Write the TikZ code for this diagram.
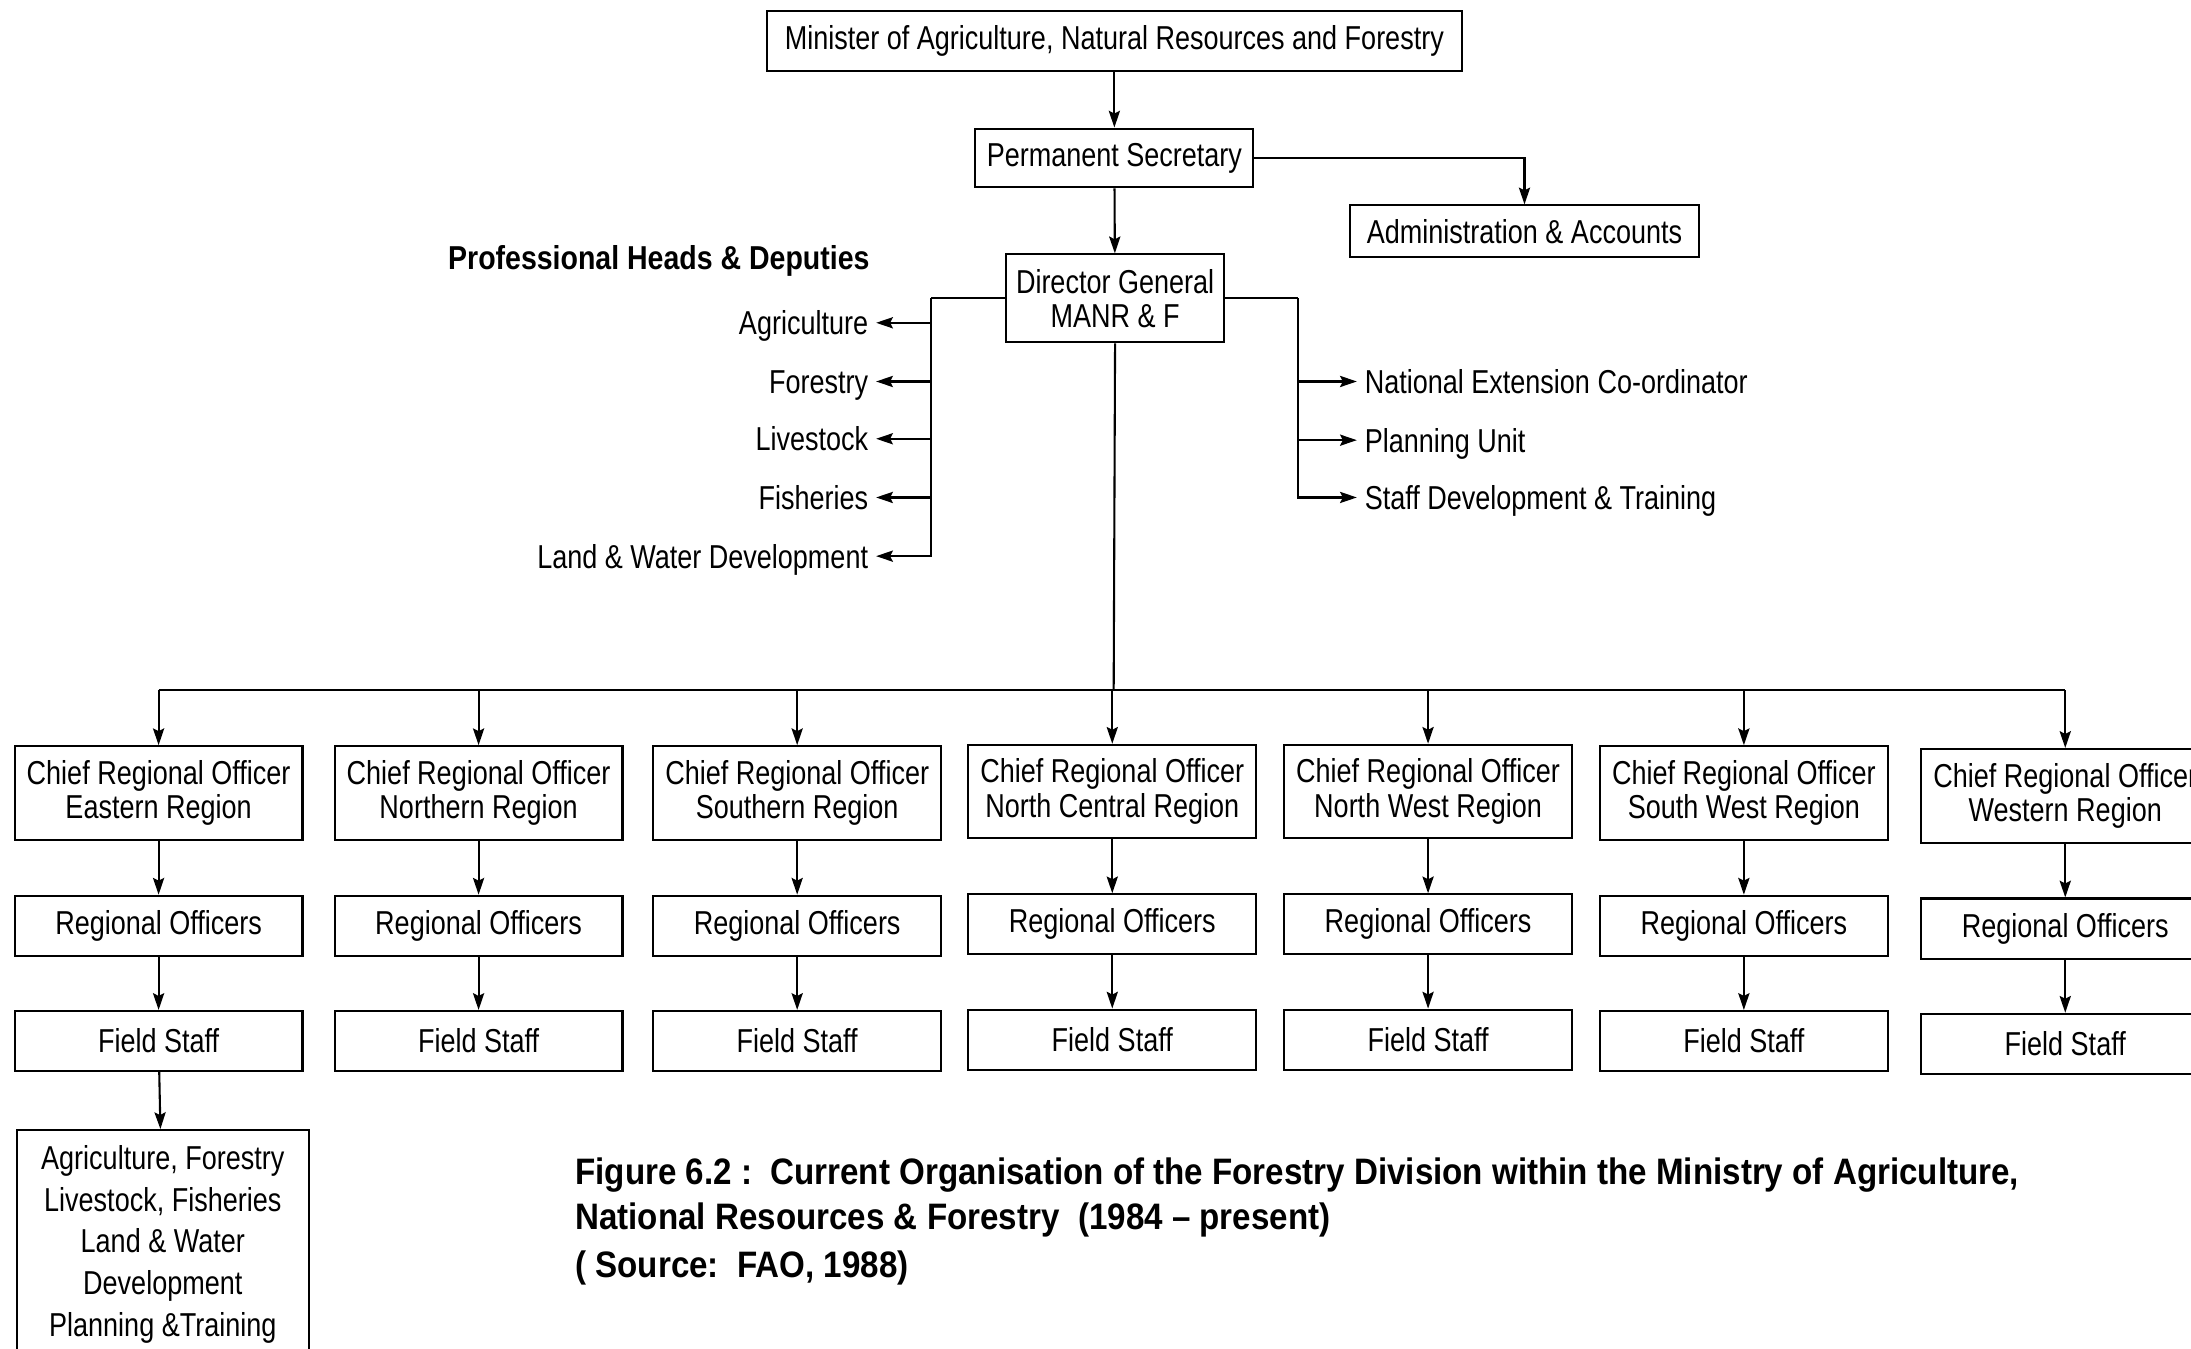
\documentclass[tikz,border=0pt]{standalone}
\usepackage{fontspec}
\setmainfont[FakeStretch=0.815]{Liberation Sans}
\newfontfamily\phfont[FakeStretch=0.86]{Liberation Sans}
\newfontfamily\capfont[FakeStretch=0.9]{Liberation Sans}
\usetikzlibrary{arrows.meta}
\begin{document}
\begin{tikzpicture}[x=0.02cm,y=-0.02cm, line width=0.85pt,
  arr/.style={-{Stealth[length=0.24cm,width=0.16cm,inset=0.04cm]}},
  box/.style={draw, fill=white, align=center, inner sep=0pt, font=\fontsize{13.5}{14}\selectfont},
  lbl/.style={inner xsep=0.1cm, inner ysep=0pt, text height=9.9pt, text depth=0pt, font=\fontsize{13.5}{14}\selectfont},
  phd/.style={inner sep=0pt, font=\phfont\bfseries\fontsize{13.5}{14}\selectfont},
  capt/.style={inner sep=0pt, font=\capfont\bfseries\fontsize{15}{16}\selectfont},
  crobox/.style={box, minimum width=4.12cm, minimum height=1.34cm},
  robox/.style={box, minimum width=4.12cm, minimum height=0.86cm},
]
\clip (0,0) rectangle (1568,965);
\fill[white] (0,0) rectangle (1568,965);

\node[box, minimum width=9.94cm, minimum height=0.86cm] (min) at (797.5,29.5) {Minister of Agriculture, Natural Resources and Forestry};
\node[box, minimum width=3.98cm, minimum height=0.84cm] (ps) at (797.5,113) {Permanent Secretary};
\node[box, minimum width=5.0cm, minimum height=0.74cm] (adm) at (1091,165.5) {Administration \& Accounts};
\node[box, minimum width=3.12cm, minimum height=1.26cm] (dg) at (798,213.5) {Director General\\MANR \& F};

\draw[arr] (min) -- (ps);
\draw[arr] (ps) -- (dg);
\draw[arr] (ps.east) -| (adm.north);

\node[phd, anchor=base west] (phd) at (320,193) {Professional Heads \& Deputies};

% left labels
\node[lbl, anchor=east] (agri) at (627,231) {Agriculture};
\node[lbl, anchor=east] (fore) at (627,273) {Forestry};
\node[lbl, anchor=east] (live) at (627,314) {Livestock};
\node[lbl, anchor=east] (fish) at (627,356) {Fisheries};
\node[lbl, anchor=east] (land) at (627,398) {Land \& Water Development};
\coordinate (lb) at (666,213.5);
\draw (dg.west) -- (lb);
\draw[arr] (lb) |- (land.east);
\foreach \n in {agri,fore,live,fish} \draw[arr] (lb |- \n.east) -- (\n.east);

% right labels
\node[lbl, anchor=west] (nec) at (971,273) {National Extension Co-ordinator};
\node[lbl, anchor=west] (plan) at (971,315) {Planning Unit};
\node[lbl, anchor=west] (sdt) at (971,356) {Staff Development \& Training};
\coordinate (rb) at (929,213.5);
\draw (dg.east) -- (rb);
\draw[arr] (rb) |- (sdt.west);
\foreach \n in {nec,plan} \draw[arr] (rb |- \n.west) -- (\n.west);

% bus
\coordinate (bus) at (797,494);
\draw (dg.south) -- (bus);
\draw (113.5,494) -- (1478,494);

\foreach \i/\x/\dy/\r in {1/113.5/0/Eastern Region, 2/342.5/0/Northern Region, 3/570.5/0/Southern Region, 4/796/-1/North Central Region, 5/1022/-1/North West Region, 6/1248/0/South West Region, 7/1478/2/Western Region}{
  \node[crobox] (cro\i) at (\x,567.5+\dy) {Chief Regional Officer\\\r};
  \node[robox] (ro\i) at (\x,662.5+\dy) {Regional Officers};
  \node[robox] (fs\i) at (\x,745+\dy) {Field Staff};
  \draw[arr] (cro\i.north |- bus) -- (cro\i.north);
  \draw[arr] (cro\i) -- (ro\i);
  \draw[arr] (ro\i) -- (fs\i);
}

\node[draw, anchor=north, minimum width=4.18cm, align=center, inner xsep=0pt, inner ysep=0.22cm,
  font=\fontsize{13.5}{17}\selectfont] (sub) at (116.5,808)
  {Agriculture, Forestry\\Livestock, Fisheries\\Land \& Water\\Development\\Planning \&Training};
\draw[arr] (fs1) -- (sub);

\node[capt, anchor=base west] (c1) at (411,848) {Figure 6.2 :\ \ Current Organisation of the Forestry Division within the Ministry of Agriculture,};
\node[capt, anchor=base west] (c2) at (411,880) {National Resources \& Forestry\ \ (1984 – present)};
\node[capt, anchor=base west] (c3) at (411,914) {( Source:\ \ FAO, 1988)};
\end{tikzpicture}
\end{document}
